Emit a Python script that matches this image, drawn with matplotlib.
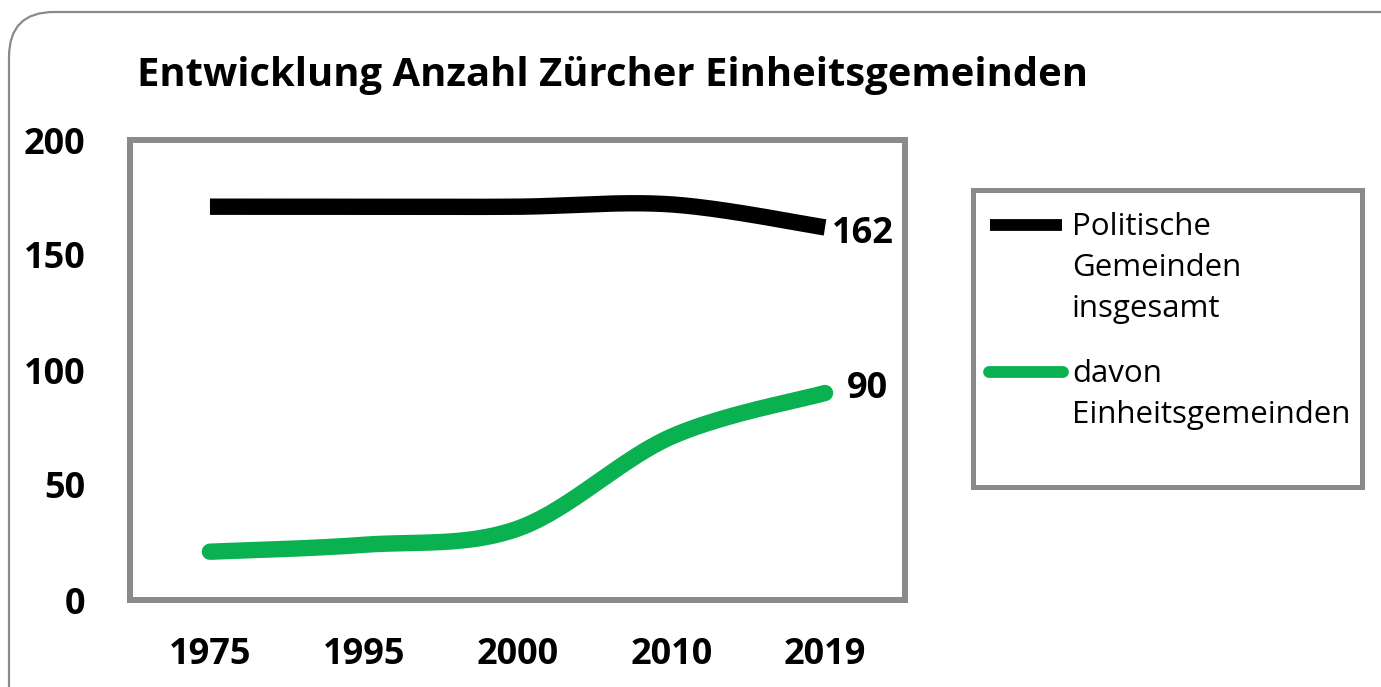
import numpy as np
import matplotlib
matplotlib.use("Agg")
import matplotlib.pyplot as plt
from matplotlib.patches import FancyBboxPatch, Rectangle
from matplotlib.lines import Line2D
from matplotlib.transforms import IdentityTransform

years = ["1975", "1995", "2000", "2010", "2019"]
politische = [171, 171, 171, 172, 162]
einheit = [21, 24, 31, 71, 90]
yticks = [0, 50, 100, 150, 200]
title = "Entwicklung Anzahl Zürcher Einheitsgemeinden"
label_pol = ["Politische", "Gemeinden", "insgesamt"]
label_ein = ["davon", "Einheitsgemeinden"]

FONT = "Open Sans"
GRAY = "#8a8a8a"
BLACK = "#000000"
GREEN = "#09b150"

W, H = 1381, 687
fig = plt.figure(figsize=(W / 100, H / 100), dpi=100)
fig.patch.set_facecolor("white")


def smooth(xs, ys, n=60):
    pts = np.column_stack([xs, ys]).astype(float)
    P = np.vstack([pts[0], pts, pts[-1]])
    out = []
    t = np.linspace(0, 1, n)[:, None]
    for i in range(1, len(P) - 2):
        p0, p1, p2, p3 = P[i - 1], P[i], P[i + 1], P[i + 2]
        c1 = p1 + (p2 - p0) / 6
        c2 = p2 - (p3 - p1) / 6
        seg = (1 - t) ** 3 * p1 + 3 * (1 - t) ** 2 * t * c1 + 3 * (1 - t) * t ** 2 * c2 + t ** 3 * p2
        out.append(seg)
    return np.vstack(out)


# outer rounded frame
outer = FancyBboxPatch((9, -60), 1440, 60 + (H - 12), boxstyle="round,pad=0,rounding_size=45",
                       transform=IdentityTransform(), facecolor="none", edgecolor=GRAY,
                       linewidth=1.6, zorder=0)
fig.patches.append(outer)

ax = fig.add_axes([130 / W, 1 - 600 / H, 775 / W, 460 / H])
x = np.arange(len(years))

s1 = smooth(x, politische)
s2 = smooth(x, einheit)
ax.plot(s1[:, 0], s1[:, 1], color=BLACK, linewidth=11.8, solid_capstyle="butt", zorder=3)
ax.plot(s2[:, 0], s2[:, 1], color=GREEN, linewidth=11.8, solid_capstyle="round", zorder=3)

ax.set_xlim(-0.52, len(years) - 0.48)
ax.set_ylim(0, 200)
ax.set_xticks(x)
ax.set_xticklabels(years)
ax.set_yticks(yticks)
ax.set_yticklabels([str(v) for v in yticks])
ax.tick_params(axis="both", length=0, labelsize=26)
ax.tick_params(axis="x", pad=27)
ax.tick_params(axis="y", pad=32)
for lab in ax.get_xticklabels() + ax.get_yticklabels():
    lab.set_fontfamily(FONT)
    lab.set_fontweight("bold")
for sp in ax.spines.values():
    sp.set_color(GRAY)
    sp.set_linewidth(4.3)

ax.annotate(str(politische[-1]), xy=(x[-1], politische[-1]), xytext=(7, -7),
            textcoords="offset pixels", ha="left", va="center", fontsize=26,
            fontweight="bold", fontfamily=FONT)
ax.annotate(str(einheit[-1]), xy=(x[-1], einheit[-1]), xytext=(22, 4),
            textcoords="offset pixels", ha="left", va="center", fontsize=26,
            fontweight="bold", fontfamily=FONT)

fig.text(137 / W, 1 - 86 / H, title, ha="left", va="baseline", fontsize=28.8,
         fontweight="bold", fontfamily=FONT)

# legend
leg = Rectangle((973, H - 487), 389, 297, transform=IdentityTransform(), facecolor="white",
                edgecolor=GRAY, linewidth=3.6)
fig.patches.append(leg)
fig.lines.append(Line2D([990, 1062], [H - 225, H - 225], transform=IdentityTransform(),
                        color=BLACK, linewidth=8.5, solid_capstyle="butt"))
fig.lines.append(Line2D([989, 1063], [H - 372, H - 372], transform=IdentityTransform(),
                        color=GREEN, linewidth=8.5, solid_capstyle="round"))
for i, line in enumerate(label_pol):
    fig.text(1072 / W, 1 - (235 + 41 * i) / H, line, ha="left", va="baseline",
             fontsize=22.5, fontfamily=FONT)
for i, line in enumerate(label_ein):
    fig.text(1072 / W, 1 - (382 + 41 * i) / H, line, ha="left", va="baseline",
             fontsize=22.5, fontfamily=FONT)

fig.savefig("out.png", dpi=100, facecolor="white")
